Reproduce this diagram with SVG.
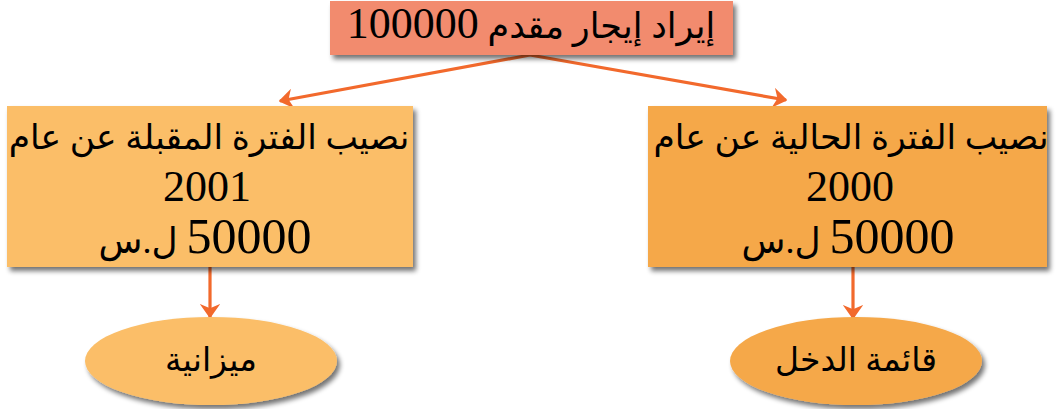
<svg xmlns="http://www.w3.org/2000/svg" width="1059" height="409" viewBox="0 0 1059 409">
<defs>
<filter id="sh" x="-10%" y="-10%" width="125%" height="135%">
<feGaussianBlur in="SourceAlpha" stdDeviation="2.5"/>
<feOffset dx="3" dy="4" result="b"/>
<feComponentTransfer><feFuncA type="linear" slope="0.55"/></feComponentTransfer>
<feMerge><feMergeNode/><feMergeNode in="SourceGraphic"/></feMerge>
</filter>
<marker id="ah" viewBox="0 0 10 14" refX="9" refY="7" markerWidth="4.5" markerHeight="6.3" orient="auto" markerUnits="strokeWidth">
<path d="M0,0 L10,7 L0,14 L3,7 z" fill="#F2692C"/>
</marker>
</defs>
<style>
.t{font-family:"Liberation Serif","DejaVu Sans",serif;fill:#000;text-anchor:middle;}
.c{fill:none;stroke:#F2692C;stroke-width:3.2;}
</style>
<g id="connectors">
<path class="c" d="M530,55 L280,101" marker-end="url(#ah)"/>
<path class="c" d="M530,55 L786,100" marker-end="url(#ah)"/>
<line class="c" x1="210" y1="267" x2="210" y2="317" marker-end="url(#ah)"/>
<line class="c" x1="853" y1="267" x2="853" y2="318" marker-end="url(#ah)"/>
</g>
<g id="top">
<rect x="330" y="1" width="403" height="54" fill="#F28B6E" filter="url(#sh)"/>
<text class="t" x="531" y="38" font-size="35" direction="rtl">إيراد إيجار مقدم <tspan font-size="44">100000</tspan></text>
</g>
<g id="left-box">
<rect x="7" y="106" width="406" height="161" fill="#FBBE67" filter="url(#sh)"/>
<text class="t" x="209" y="149" font-size="34.5" direction="rtl">نصيب الفترة المقبلة عن عام</text>
<text class="t" x="207" y="201" font-size="44">2001</text>
<text class="t" x="205" y="253" font-size="36" direction="rtl"><tspan font-size="50">50000</tspan> ل.س</text>
</g>
<g id="right-box">
<rect x="648" y="106" width="399" height="161" fill="#F5A84A" filter="url(#sh)"/>
<text class="t" x="851" y="149" font-size="34.5" direction="rtl">نصيب الفترة الحالية عن عام</text>
<text class="t" x="850" y="201" font-size="44">2000</text>
<text class="t" x="848" y="253" font-size="36" direction="rtl"><tspan font-size="50">50000</tspan> ل.س</text>
</g>
<g id="left-ellipse">
<ellipse cx="211" cy="361" rx="126" ry="44" fill="#FBBE67" filter="url(#sh)"/>
<text class="t" x="211" y="371" font-size="33" direction="rtl">ميزانية</text>
</g>
<g id="right-ellipse">
<ellipse cx="856" cy="361" rx="126" ry="44" fill="#F5A84A" filter="url(#sh)"/>
<text class="t" x="856" y="371" font-size="33" direction="rtl">قائمة الدخل</text>
</g>
</svg>
